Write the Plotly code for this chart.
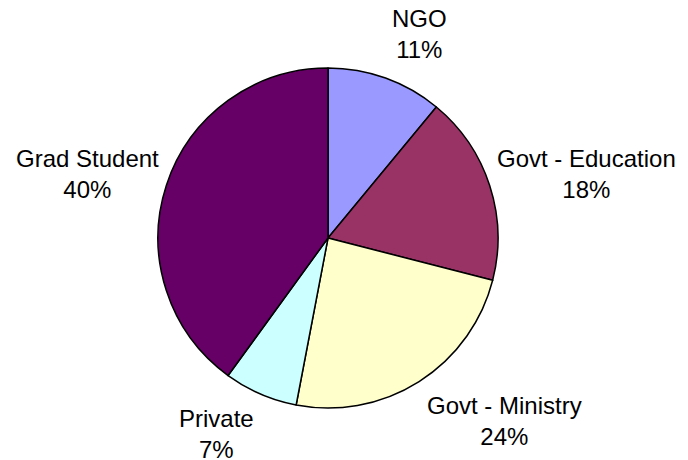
import math
import plotly.graph_objects as go

labels = ["NGO", "Govt - Education", "Govt - Ministry", "Private", "Grad Student"]
values = [11, 18, 24, 7, 40]
colors = ["#9999FF", "#993366", "#FFFFCC", "#CCFFFF", "#660066"]

W, H = 688, 460
cx_px, cy_px, r_px = 328, 238, 170  # pie centre (from top-left) and radius in pixels

dom_x = [(cx_px - r_px) / W, (cx_px + r_px) / W]
dom_y = [(H - cy_px - r_px) / H, (H - cy_px + r_px) / H]

fig = go.Figure(go.Pie(
    labels=labels, values=values, sort=False, direction="clockwise", rotation=0,
    marker=dict(colors=colors, line=dict(color="black", width=1.5)),
    textinfo="none", hoverinfo="label+percent", showlegend=False,
    domain=dict(x=dom_x, y=dom_y),
))

total = sum(values)
cum = 0
anns = []
for lab, v in zip(labels, values):
    mid = (cum + v / 2) / total * 2 * math.pi
    cum += v
    s, c = math.sin(mid), math.cos(mid)
    xa = "left" if s > 0 else "right"
    yshift = 0
    if c > 0.5:
        ya, rr = "bottom", r_px * 1.08
    elif c < -0.5:
        ya, rr = "top", r_px * 1.07
        yshift = 2
    else:
        ya, rr = "middle", r_px * 1.035
        yshift = 10
    px = cx_px + rr * s
    py = cy_px - rr * c
    anns.append(dict(
        x=px / W, y=(H - py) / H, xref="paper", yref="paper",
        text=f"{lab}<br>{round(v / total * 100)}%", showarrow=False,
        xanchor=xa, yanchor=ya, align="center", yshift=yshift,
        font=dict(family="Liberation Sans, Arial, sans-serif", size=24, color="black"),
    ))

fig.update_layout(
    width=W, height=H, margin=dict(l=0, r=0, t=0, b=0),
    paper_bgcolor="white", plot_bgcolor="white",
    annotations=anns,
)
fig.write_html("out.html")
